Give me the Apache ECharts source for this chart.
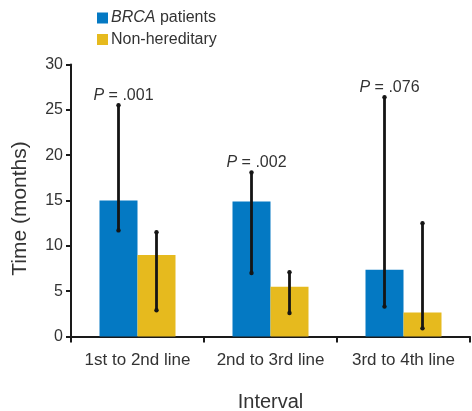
<!DOCTYPE html>
<html>
<head>
<meta charset="utf-8">
<script src="https://cdn.jsdelivr.net/npm/echarts@6/dist/echarts.min.js"></script>
<style>html,body{margin:0;padding:0;background:#fff;}#c{width:472px;height:411px;}</style>
</head>
<body>
<div id="c"></div>
<script>
const categories = ['1st to 2nd line', '2nd to 3rd line', '3rd to 4th line'];
const brcaValues = [15, 14.9, 7.35];
const nonHereditaryValues = [9, 5.5, 2.65];
const brcaLow = [11.7, 7.0, 3.3];
const brcaHigh = [25.5, 18.1, 26.4];
const nonLow = [2.9, 2.6, 0.9];
const nonHigh = [11.5, 7.1, 12.5];
const pValues = ['.001', '.002', '.076'];
const yTicks = [0, 5, 10, 15, 20, 25, 30];

const BLUE = '#0479C3';
const YELLOW = '#E6BA1E';
const TEXT = '#333';
const FONT = "'Liberation Sans', Arial, sans-serif";
const BAR_W = 38;

const chart = echarts.init(document.getElementById('c'), null, {renderer: 'canvas'});

function errRender(lows, highs, side, withLabel) {
  return function (params, api) {
    const i = api.value(0);
    const lo = api.coord([i, lows[i]]);
    const hi = api.coord([i, highs[i]]);
    const x = lo[0] + side * BAR_W / 2;
    const children = [
      {type: 'line', shape: {x1: x, y1: lo[1], x2: x, y2: hi[1]}, style: {stroke: '#151515', lineWidth: 2.8}},
      {type: 'circle', shape: {cx: x, cy: lo[1], r: 2.2}, style: {fill: '#151515'}},
      {type: 'circle', shape: {cx: x, cy: hi[1], r: 2.2}, style: {fill: '#151515'}}
    ];
    if (withLabel) {
      children.push({
        type: 'text',
        x: x + 5, y: hi[1] - 2,
        style: {
          text: '{i|P} = ' + pValues[i],
          fill: TEXT, font: '16px ' + FONT,
          align: 'center', verticalAlign: 'bottom',
          rich: {i: {fontStyle: 'italic', fontSize: 16, fontFamily: FONT, fill: TEXT}}
        }
      });
    }
    return {type: 'group', children: children};
  };
}

chart.setOption({
  animation: false,
  backgroundColor: '#fff',
  textStyle: {fontFamily: FONT},
  legend: {
    orient: 'vertical', left: 97, top: 10, padding: 0,
    itemWidth: 11, itemHeight: 11, itemGap: 5.5,
    icon: 'rect',
    data: ['BRCA patients', 'Non-hereditary'],
    formatter: function (n) { return n === 'BRCA patients' ? '{i|BRCA} patients' : n; },
    textStyle: {
      fontSize: 16, color: TEXT, fontFamily: FONT, padding: [0, 0, 0, -2],
      rich: {i: {fontStyle: 'italic', fontSize: 16, color: TEXT, fontFamily: FONT}}
    }
  },
  grid: {left: 71, right: 2, top: 64.5, bottom: 74.5, containLabel: false, outerBoundsMode: 'none'},
  xAxis: {
    type: 'category', data: categories,
    name: 'Interval', nameLocation: 'middle', nameGap: 56,
    nameTextStyle: {fontSize: 20, color: TEXT, fontFamily: FONT},
    axisLine: {lineStyle: {color: '#1a1a1a', width: 2}},
    axisTick: {show: true, length: 6, lineStyle: {color: '#1a1a1a', width: 2}},
    axisLabel: {fontSize: 17, color: TEXT, margin: 15, interval: 0, fontFamily: FONT}
  },
  yAxis: {
    type: 'value', min: 0, max: 30, interval: 5,
    name: 'Time (months)', nameLocation: 'middle', nameGap: 40,
    nameTextStyle: {fontSize: 21, color: TEXT, fontFamily: FONT, padding: [0, 16, 0, 0]},
    axisLine: {show: true, lineStyle: {color: '#1a1a1a', width: 2}},
    axisTick: {show: true, length: 5, lineStyle: {color: '#1a1a1a', width: 2}},
    axisLabel: {fontSize: 16, color: TEXT, margin: 8, fontFamily: FONT,
      formatter: function (v) { return yTicks.indexOf(v) >= 0 ? String(v) : ''; }},
    splitLine: {show: false}
  },
  series: [
    {name: 'BRCA patients', type: 'bar', data: brcaValues, barWidth: BAR_W, barGap: '0%',
      itemStyle: {color: BLUE}},
    {name: 'Non-hereditary', type: 'bar', data: nonHereditaryValues, barWidth: BAR_W, barGap: '0%',
      itemStyle: {color: YELLOW}},
    {type: 'custom', z: 10, data: categories.map((c, i) => [i]),
      renderItem: errRender(brcaLow, brcaHigh, -1, true)},
    {type: 'custom', z: 10, data: categories.map((c, i) => [i]),
      renderItem: errRender(nonLow, nonHigh, 1, false)}
  ]
});
</script>
</body>
</html>
